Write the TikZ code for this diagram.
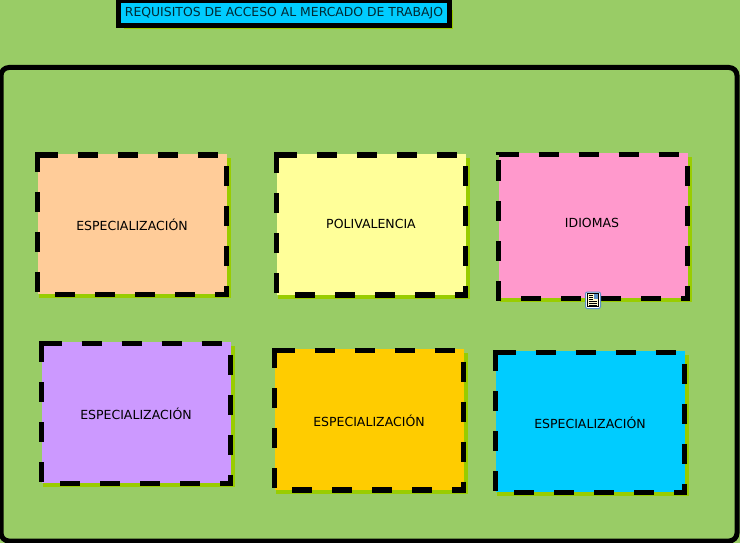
\documentclass[tikz,border=0pt]{standalone}
\usepackage{fontspec}
\setmainfont{DejaVu Sans}
\definecolor{bggreen}{HTML}{99CC66}
\definecolor{lime}{HTML}{99CC00}
\definecolor{peach}{HTML}{FFCC99}
\definecolor{paleyellow}{HTML}{FFFF99}
\definecolor{pinkbox}{HTML}{FF99CC}
\definecolor{purplebox}{HTML}{CC99FF}
\definecolor{orangebox}{HTML}{FFCC00}
\definecolor{bluebox}{HTML}{00CCFF}
\definecolor{iconblue}{HTML}{5B8FC7}
\definecolor{iconcream}{HTML}{FFFBD0}
\tikzset{
  cardborder/.style={draw=black,line width=5.4pt,dash pattern=on 20pt off 20pt,line cap=butt},
  cardlabel/.style={text=black,font=\fontsize{12.5pt}{15pt}\selectfont,inner sep=0pt},
}
% #1 name, #2 colour, #3 x0, #4 y0, #5 x1, #6 y1, #7 label x, #8 label y, #9 text
\newcommand{\cardbox}[9]{%
  \fill[lime] (#3+1,#4+2.5) rectangle (#5+4.5,#6+3.5);
  \fill[#2] (#3,#4-1.5) rectangle (#5+0.5,#6-0.5);
  \draw[cardborder] (#3,#4) -- (#5,#4) -- (#5,#6) -- (#3,#6) -- cycle;
  \fill[black] (#3-2.7,#4-2.7) rectangle (#3+0.5,#4+0.5);
  \node[cardlabel] (#1) at (#7,#8-1) {#9};
}
\begin{document}
\begin{tikzpicture}[x=1pt,y=-1pt]
\useasboundingbox (0,0) rectangle (740,543);
\fill[bggreen] (0,0) rectangle (740,543);
\draw[black,line width=5pt,rounded corners=8pt] (1,67.5) rectangle (737,541);
% title
\fill[lime] (124,10) rectangle (452.5,28.6);
\node[draw=black,line width=5pt,fill=bluebox,minimum width=331pt,minimum height=25pt,inner sep=0pt,
  text=black!80!bluebox,font=\fontsize{12.4pt}{15pt}\selectfont] (title) at (284,13) {\raisebox{1pt}{REQUISITOS DE ACCESO AL MERCADO DE TRABAJO}};
\cardbox{c1}{peach}{37.5}{155}{226.5}{294.5}{132}{225.5}{ESPECIALIZACIÓN}
\cardbox{c2}{paleyellow}{276.5}{155}{465.5}{295}{371}{224.5}{POLIVALENCIA}
\cardbox{c3}{pinkbox}{498.5}{154.5}{687.5}{298.5}{592}{223.5}{IDIOMAS}
\cardbox{c4}{purplebox}{41.5}{343.5}{230.5}{483.5}{136}{414.5}{ESPECIALIZACIÓN}
\cardbox{c5}{orangebox}{274.5}{350.5}{463.5}{490}{369}{421.5}{ESPECIALIZACIÓN}
\cardbox{c6}{bluebox}{495.5}{352.5}{684.5}{492.5}{590}{423.5}{ESPECIALIZACIÓN}
% note icon
\draw[iconblue,fill=white,line width=1pt,rounded corners=2pt] (585.5,292) rectangle (600.5,308.5);
\fill[iconcream] (588,294) rectangle (598,306.5);
\draw[black,line width=0.7pt] (587.7,293.7) rectangle (598.3,306.8);
\fill[iconblue] (593.5,294.3) rectangle (597.8,299);
\draw[black,line width=0.8pt] (589,295.5) -- (592.5,295.5) (589,297.5) -- (592.5,297.5) (589,299.5) -- (592.5,299.5) (589,301.5) -- (597,301.5) (589,303.5) -- (597,303.5) (589,305.5) -- (597,305.5);
\end{tikzpicture}
\end{document}
